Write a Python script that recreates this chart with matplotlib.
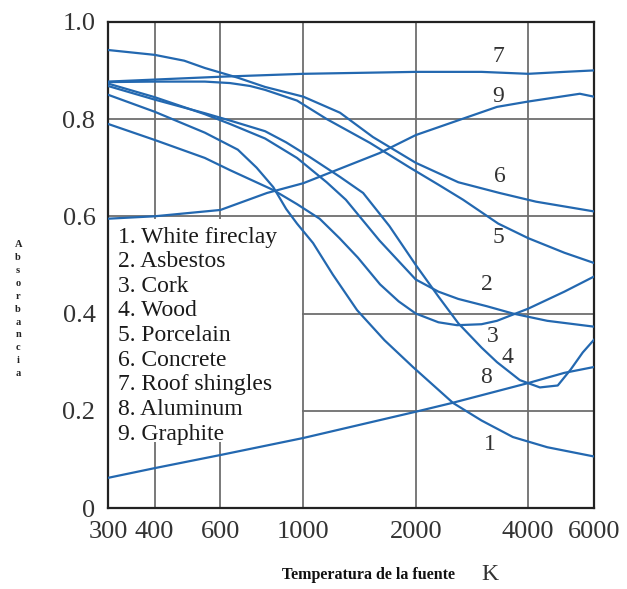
import matplotlib
matplotlib.use('Agg')
import matplotlib.pyplot as plt
from matplotlib.ticker import NullLocator
from matplotlib.patches import Rectangle

# source temperature (K) and absorptance, one pair per curve
t1 = [300, 400, 545, 668, 750, 831, 900, 962, 1062, 1200, 1393, 1650, 1966, 2518, 3000, 3640, 4500, 6000]
a1 = [0.85, 0.815, 0.772, 0.737, 0.70, 0.66, 0.615, 0.585, 0.545, 0.48, 0.407, 0.345, 0.29, 0.216, 0.18, 0.146, 0.125, 0.106]

t2 = [300, 400, 545, 636, 790, 962, 1155, 1300, 1600, 2000, 2300, 2600, 3100, 3640, 4500, 6000]
a2 = [0.873, 0.845, 0.81, 0.79, 0.76, 0.72, 0.67, 0.634, 0.55, 0.47, 0.445, 0.43, 0.415, 0.40, 0.385, 0.373]

t3 = [300, 400, 545, 636, 831, 962, 1106, 1250, 1400, 1605, 1800, 2000, 2300, 2580, 3000, 3300, 4000, 5000, 6000]
a3 = [0.79, 0.757, 0.72, 0.695, 0.654, 0.625, 0.595, 0.555, 0.515, 0.46, 0.425, 0.40, 0.382, 0.376, 0.378, 0.385, 0.41, 0.445, 0.476]

t4 = [300, 400, 545, 636, 790, 900, 1040, 1254, 1446, 1700, 2000, 2300, 2600, 3000, 3300, 3800, 4300, 4800, 5200, 5600, 6000]
a4 = [0.868, 0.84, 0.812, 0.797, 0.775, 0.752, 0.722, 0.681, 0.648, 0.58, 0.50, 0.435, 0.38, 0.33, 0.30, 0.263, 0.248, 0.252, 0.285, 0.32, 0.346]

t5 = [300, 400, 545, 636, 720, 790, 962, 1155, 1508, 1930, 2300, 2678, 3325, 4000, 5000, 6000]
a5 = [0.876, 0.877, 0.877, 0.874, 0.868, 0.86, 0.838, 0.80, 0.751, 0.70, 0.665, 0.634, 0.585, 0.555, 0.525, 0.504]

t6 = [300, 400, 480, 545, 668, 790, 1000, 1254, 1536, 2000, 2600, 3350, 4200, 6000]
a6 = [0.942, 0.932, 0.92, 0.905, 0.885, 0.866, 0.846, 0.813, 0.763, 0.71, 0.67, 0.648, 0.63, 0.61]

t7 = [300, 600, 1000, 2000, 3000, 4000, 5000, 6000]
a7 = [0.877, 0.887, 0.893, 0.897, 0.897, 0.893, 0.897, 0.90]

t8 = [300, 400, 600, 1000, 2000, 2500, 4000, 5000, 6000]
a8 = [0.062, 0.082, 0.109, 0.144, 0.198, 0.216, 0.257, 0.278, 0.29]

t9 = [300, 400, 600, 800, 1000, 1600, 2000, 3300, 4000, 5500, 6000]
a9 = [0.595, 0.60, 0.613, 0.648, 0.668, 0.73, 0.767, 0.825, 0.836, 0.852, 0.846]

materials = ['White fireclay', 'Asbestos', 'Cork', 'Wood', 'Porcelain',
             'Concrete', 'Roof shingles', 'Aluminum', 'Graphite']
xticks = [300, 400, 600, 1000, 2000, 4000, 6000]
yticks = [0, 0.2, 0.4, 0.6, 0.8, 1.0]
ylabels = ['0', '0.2', '0.4', '0.6', '0.8', '1.0']

curves = [(t1, a1), (t2, a2), (t3, a3), (t4, a4), (t5, a5),
          (t6, a6), (t7, a7), (t8, a8), (t9, a9)]
# where the curve numbers sit (T, absorptance)
num_pos = [(3160, 0.13), (3100, 0.459), (3220, 0.352), (3530, 0.31),
           (3325, 0.556), (3360, 0.681), (3325, 0.928), (3080, 0.268), (3325, 0.846)]

serif = 'Liberation Serif'
blue = '#2368b0'

fig = plt.figure(figsize=(6.27, 5.89), dpi=100)
ax = fig.add_axes([0.1722, 0.1375, 0.7751, 0.8255])

ax.set_xscale('log')
ax.set_xlim(300, 6000)
ax.set_ylim(0, 1.0)
ax.xaxis.set_minor_locator(NullLocator())
ax.set_xticks(xticks)
ax.set_xticklabels([str(t) for t in xticks], fontfamily=serif, fontsize=19, color='#333333')
ax.set_yticks(yticks)
ax.set_yticklabels(ylabels, fontfamily=serif, fontsize=19, color='#333333')
ax.tick_params(length=0, pad=9)
ax.grid(True, color='#6e6e6e', lw=1.3, zorder=1)
ax.set_axisbelow(True)
for s in ax.spines.values():
    s.set_linewidth(1.6)
    s.set_color('#222222')

# white patch behind the legend text, hides the grid there
ax.add_patch(Rectangle((300, 0.135), 690, 0.46, facecolor='white', edgecolor='none', zorder=1.5))

for i, (t, a) in enumerate(curves):
    ax.plot(t, a, color=blue, lw=1.6, zorder=3)
    ax.text(num_pos[i][0], num_pos[i][1], str(i + 1), fontfamily=serif, fontsize=17,
            color='#333333', ha='center', va='center', zorder=4)

for i, m in enumerate(materials):
    ax.text(0.02, 0.557 - i * 0.0506, '%d. %s' % (i + 1, m), transform=ax.transAxes,
            fontfamily=serif, fontsize=17, color='#1a1a1a', va='center', ha='left', zorder=4)

fig.text(0.029, 0.475, '\n'.join('Absorbancia'), fontfamily=serif, fontweight='bold',
         fontsize=7.5, linespacing=1.55, ha='center', va='center', color='#222222')
fig.text(0.45, 0.023, 'Temperatura de la fuente', fontfamily=serif, fontweight='bold',
         fontsize=11.5, ha='left', va='center', color='#111111')
fig.text(0.781, 0.024, 'K', fontfamily=serif, fontsize=17, ha='center', va='center',
         color='#333333')

fig.savefig('out.png', dpi=100)
